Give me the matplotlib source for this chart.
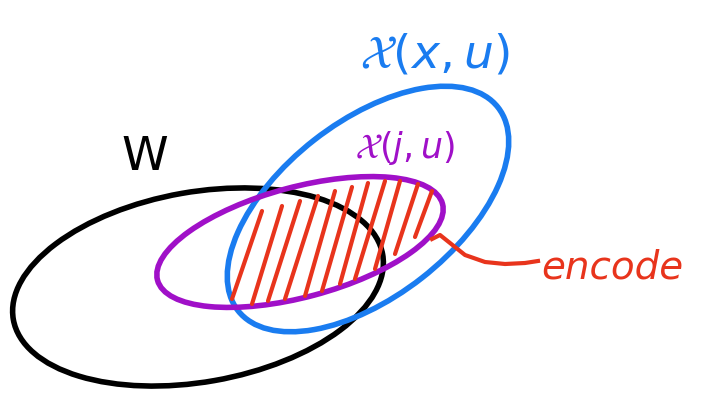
import matplotlib
matplotlib.use("Agg")
import matplotlib.pyplot as plt
from matplotlib.patches import Ellipse

BLACK = "#000000"
BLUE = "#1a7cf0"
PURPLE = "#a010c8"
RED = "#e8341c"

# ellipses: (cx, cy, width, height, angle) in pixel coords (y down)
ellipse_names = ["W", "X", "x"]
ellipse_cx = [198, 368, 300]
ellipse_cy = [288, 210, 243]
ellipse_w = [375, 330, 295]
ellipse_h = [190, 175, 110]
ellipse_ang = [-10, -38, -15]
ellipse_col = [BLACK, BLUE, PURPLE]

# red hatch strokes
hatch_top_x = [262, 282, 300, 318, 335, 352, 368, 385, 400, 418, 432]
hatch_top_y = [212, 207, 202, 197, 192, 188, 184, 182, 182, 185, 192]
hatch_bot_x = [232, 252, 268, 285, 305, 322, 340, 355, 375, 395, 415]
hatch_bot_y = [300, 305, 302, 300, 297, 292, 285, 280, 270, 255, 238]

# encode pointer curve
curve_x = [432, 440, 450, 465, 485, 505, 525, 538]
curve_y = [240, 236, 244, 256, 263, 265, 264, 262]

fig = plt.figure(figsize=(7.1, 4.06), dpi=100)
ax = fig.add_axes([0, 0, 1, 1])
ax.set_xlim(0, 710)
ax.set_ylim(406, 0)
ax.axis("off")

for cx, cy, w, h, a, c in zip(ellipse_cx, ellipse_cy, ellipse_w, ellipse_h, ellipse_ang, ellipse_col):
    ax.add_patch(Ellipse((cx, cy), w, h, angle=a, fill=False, edgecolor=c, linewidth=4))

for x0, y0, x1, y1 in zip(hatch_top_x, hatch_top_y, hatch_bot_x, hatch_bot_y):
    ax.plot([x0, x1], [y0, y1], color=RED, linewidth=3, solid_capstyle="round")

ax.plot(curve_x, curve_y, color=RED, linewidth=3)

ax.text(145, 158, "W", color=BLACK, fontsize=34, ha="center", va="center")
ax.text(435, 55, r"$\mathcal{X}(x,u)$", color=BLUE, fontsize=34, ha="center", va="center")
ax.text(405, 148, r"$\mathcal{X}(j,u)$", color=PURPLE, fontsize=25, ha="center", va="center")
ax.text(612, 268, "encode", color=RED, fontsize=28, ha="center", va="center", style="italic")

fig.savefig("out.png", dpi=100)
